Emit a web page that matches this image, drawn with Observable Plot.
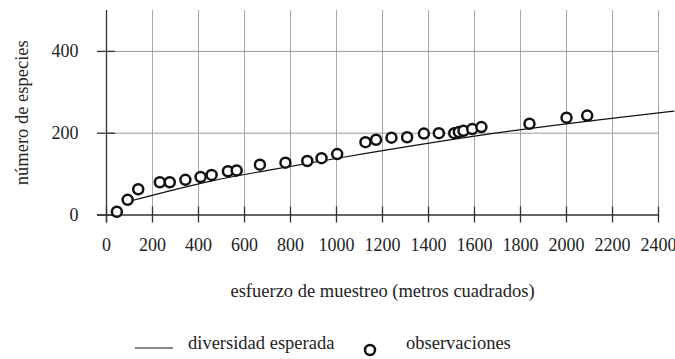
<!DOCTYPE html>
<html>
<head>
<meta charset="utf-8">
<script src="https://cdn.jsdelivr.net/npm/d3@7"></script>
<script src="https://cdn.jsdelivr.net/npm/@observablehq/plot@0.6"></script>
<style>
  body { margin: 0; background: #fff; }
  #chart { width: 675px; height: 359px; font-family: "Liberation Serif", "Times New Roman", serif; color: #222; }
  #chart svg { display: block; overflow: visible; }
</style>
</head>
<body>
<div id="chart"></div>
<script>
// Observations (sampling effort in m², number of species)
const effort  = [45, 92, 138, 232, 275, 343, 409, 457, 528, 566, 667, 778, 873, 935, 1003,
                 1126, 1172, 1239, 1307, 1380, 1445, 1512, 1532, 1552, 1590, 1630, 1839, 2000, 2090];
const species = [8, 37, 63, 80, 80, 86, 93, 98, 107, 109, 123, 128, 132, 139, 149,
                 178, 184, 189, 190, 199, 200, 200, 203, 206, 210, 215, 223, 238, 243];

// Expected diversity curve
const curveEffort  = [95, 455, 700, 1017, 1690, 2467];
const curveSpecies = [33, 83, 109, 140, 200, 254];

// Ticks / grid
const xTicks = [0, 200, 400, 600, 800, 1000, 1200, 1400, 1600, 1800, 2000, 2200, 2400];
const yTicks = [0, 200, 400];
const xGrid = [200, 400, 600, 800, 1000, 1200, 1400, 1600, 1800, 2000, 2200, 2400];
const yGrid = [200, 400];

const xLabel = "esfuerzo de muestreo (metros cuadrados)";
const yLabel = "número de especies";
const legendLine = "diversidad esperada";
const legendDots = "observaciones";

const obs = effort.map((x, i) => ({x, y: species[i]}));
const curve = curveEffort.map((x, i) => ({x, y: curveSpecies[i]}));

const W = 675, H = 320;
const axisColor = "#333";
const font = "'Liberation Serif', 'Times New Roman', serif";

const plot = Plot.plot({
  width: W,
  height: H,
  marginLeft: 106,
  marginRight: 17,
  marginTop: 10,
  marginBottom: H - 214.5,
  x: {domain: [0, 2400]},
  y: {domain: [0, 500]},
  style: {fontFamily: font, fontSize: "18px", color: "#222", background: "white", overflow: "visible"},
  marks: [
    Plot.ruleX(xGrid, {x: d => d, stroke: "#a8a8a8", strokeWidth: 1}),
    Plot.ruleY(yGrid, {y: d => d, stroke: "#9a9a9a", strokeWidth: 1}),
    // axis lines
    Plot.ruleX([0], {x: d => d, stroke: axisColor, strokeWidth: 1.3, insetBottom: -8}),
    Plot.ruleY([0], {y: d => d, x1: 0, x2: 2400, stroke: axisColor, strokeWidth: 1.3, insetLeft: -9}),
    // crossing ticks
    Plot.ruleX(xTicks, {x: d => d, y1: 0, y2: 0, insetTop: 8, insetBottom: 8, stroke: axisColor, strokeWidth: 1.3}),
    Plot.ruleY(yTicks, {y: d => d, x1: 0, x2: 0, insetLeft: 9, insetRight: 9, stroke: axisColor, strokeWidth: 1.3}),
    // tick labels
    Plot.axisX(xTicks, {tickSize: 0, tickPadding: 23, tickFormat: d => String(d), label: null, fontSize: 18, fill: "#222"}),
    Plot.axisY(yTicks, {tickSize: 0, tickPadding: 28, tickFormat: d => String(d), label: null, fontSize: 18, fill: "#222"}),
    // axis titles
    Plot.text([xLabel], {frameAnchor: "bottom", dy: 76.5, lineAnchor: "middle", textAnchor: "middle", fontSize: 18.5, fill: "#222"}),
    Plot.text([yLabel], {frameAnchor: "left", rotate: -90, dx: -84, lineAnchor: "middle", textAnchor: "middle", fontSize: 18.5, fill: "#222"}),
    // expected diversity
    Plot.line(curve, {x: "x", y: "y", stroke: "#111", strokeWidth: 1.2, curve: "monotone-x"}),
    // observations
    Plot.dot(obs, {x: "x", y: "y", r: 5, stroke: "#111", strokeWidth: 2.5, fill: "white"})
  ]
});

const chart = document.getElementById("chart");
chart.appendChild(plot);

// Legend below the plot
const lg = d3.create("svg").attr("width", W).attr("height", 359 - H)
  .style("font-family", font).style("font-size", "18.5px");
lg.append("line").attr("x1", 135).attr("x2", 173).attr("y1", 28).attr("y2", 28)
  .attr("stroke", "#111").attr("stroke-width", 1.2);
lg.append("text").attr("x", 188).attr("y", 28.5).attr("fill", "#222").text(legendLine);
lg.append("circle").attr("cx", 370).attr("cy", 30).attr("r", 5)
  .attr("fill", "white").attr("stroke", "#111").attr("stroke-width", 2.5);
lg.append("text").attr("x", 406).attr("y", 28.5).attr("fill", "#222").text(legendDots);
chart.appendChild(lg.node());
</script>
</body>
</html>
